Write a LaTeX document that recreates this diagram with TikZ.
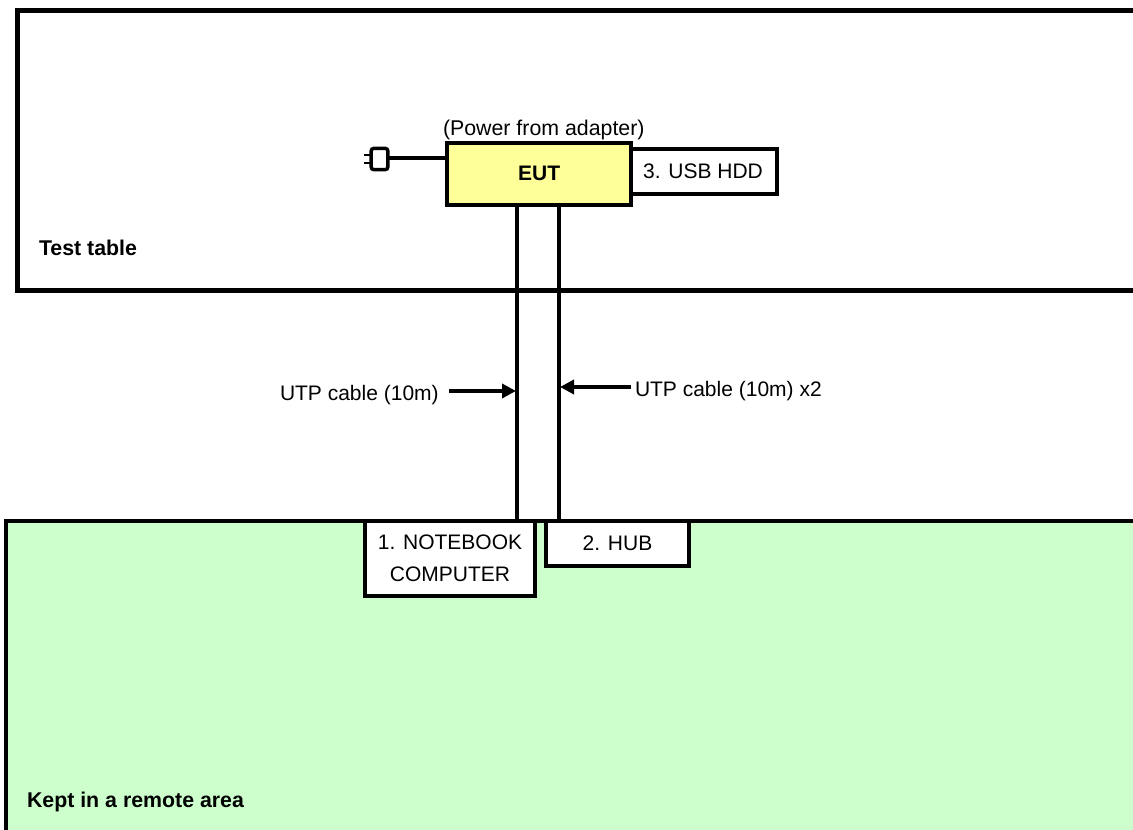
\documentclass[tikz,border=0pt]{standalone}
\usepackage{fontspec}
\setmainfont{Liberation Sans}
\usepackage{tikz}
\usetikzlibrary{arrows.meta}
\definecolor{euty}{HTML}{FFFF99}
\definecolor{remoteg}{HTML}{CCFFCC}
\tikzset{>={Triangle[length=10.5pt,width=10.5pt]}}
\tikzset{
    wire/.style={line width=3pt},
    unit/.style={draw, line width=3pt, fill=white, outer sep=0pt, inner sep=0pt, align=center,
        font=\fontsize{15.75}{23.5}\selectfont},
    lbl/.style={inner sep=0pt, outer sep=0pt, anchor=base west, font=\fontsize{15.75}{19}\selectfont},
    blbl/.style={lbl, font=\fontsize{16}{19}\selectfont\bfseries}
}

\begin{document}
\begin{tikzpicture}[x=0.75pt, y=-0.75pt]
        \useasboundingbox (0, 0) rectangle (1133, 830);

        % Test table
        \coordinate (table1) at (1133, 10.5);
        \coordinate (table2) at (1133, 291);
        \draw[line width=3.75pt] (table1) -- (17, 10.5) -- (17, 291) -- (table2);
        \node[blbl] (table) at (39, 255.5) {Test table};

        % Remote area
        \coordinate (remote1) at (1133, 521);
        \coordinate (remote2) at (6, 830);
        \fill[remoteg] (remote1) rectangle (remote2);
        \draw[line width=3.5pt] (remote1) -- (6, 521) -- (remote2);
        \node[blbl] (remote) at (27, 807) {Kept in a remote area};

        % Cables
        \coordinate (cable1) at (517, 521);
        \coordinate (cable2) at (558.5, 521);
        \coordinate (cable1top) at (517, 205);
        \coordinate (cable2top) at (558.5, 205);
        \draw[wire] (cable1top) -- (cable1);
        \draw[wire] (cable2top) -- (cable2);

        %3
        \node[unit, minimum width=111pt, minimum height=33.75pt] (hdd) at (703, 171.5) {3. USB HDD};

        %EUT
        \node[unit, fill=euty, minimum width=137.6pt, minimum height=46.1pt, font=\fontsize{15.75}{19}\selectfont\bfseries] (eut) at (539.2, 174.2) {\raisebox{1.5pt}{EUT}};
        \node[lbl, font=\fontsize{16}{19}\selectfont] (power) at (443, 136) {(Power from adapter)};

        %1
        \node[unit, minimum width=127.5pt, minimum height=56.25pt] (nb) at (450, 558.5) {\raisebox{1.2pt}{1. NOTEBOOK}\\\raisebox{0.6pt}{COMPUTER}};

        %2
        \node[unit, minimum width=107.25pt, minimum height=33.75pt] (hub) at (617.5, 543.5) {2. HUB};

        % Plug
        \node[draw, line width=2.6pt, rounded corners=2pt, minimum width=12.5pt, minimum height=16pt, inner sep=0pt, outer sep=0pt] (plug) at (379.5, 159) {};
        \coordinate (prong1) at (364, 155);
        \coordinate (prong2) at (364, 163);
        \draw[line width=1.5pt] (prong1) -- (prong1 -| plug.west);
        \draw[line width=1.5pt] (prong2) -- (prong2 -| plug.west);
        \coordinate (cord) at (447.5, 158);
        \draw[wire] (cord -| plug.east) -- (cord);

        % Labels
        \node[lbl] (utp1) at (280, 400.7) {UTP cable (10m)};
        \node[lbl] (utp2) at (635, 396.7) {UTP cable (10m) x2};
        \coordinate (utp1start) at (449, 391);
        \coordinate (utp1end) at (516, 391);
        \coordinate (utp2start) at (631, 387);
        \coordinate (utp2end) at (560, 387);
        \draw[->, wire] (utp1start) -- (utp1end);
        \draw[->, wire] (utp2start) -- (utp2end);
    \end{tikzpicture}
\end{document}
